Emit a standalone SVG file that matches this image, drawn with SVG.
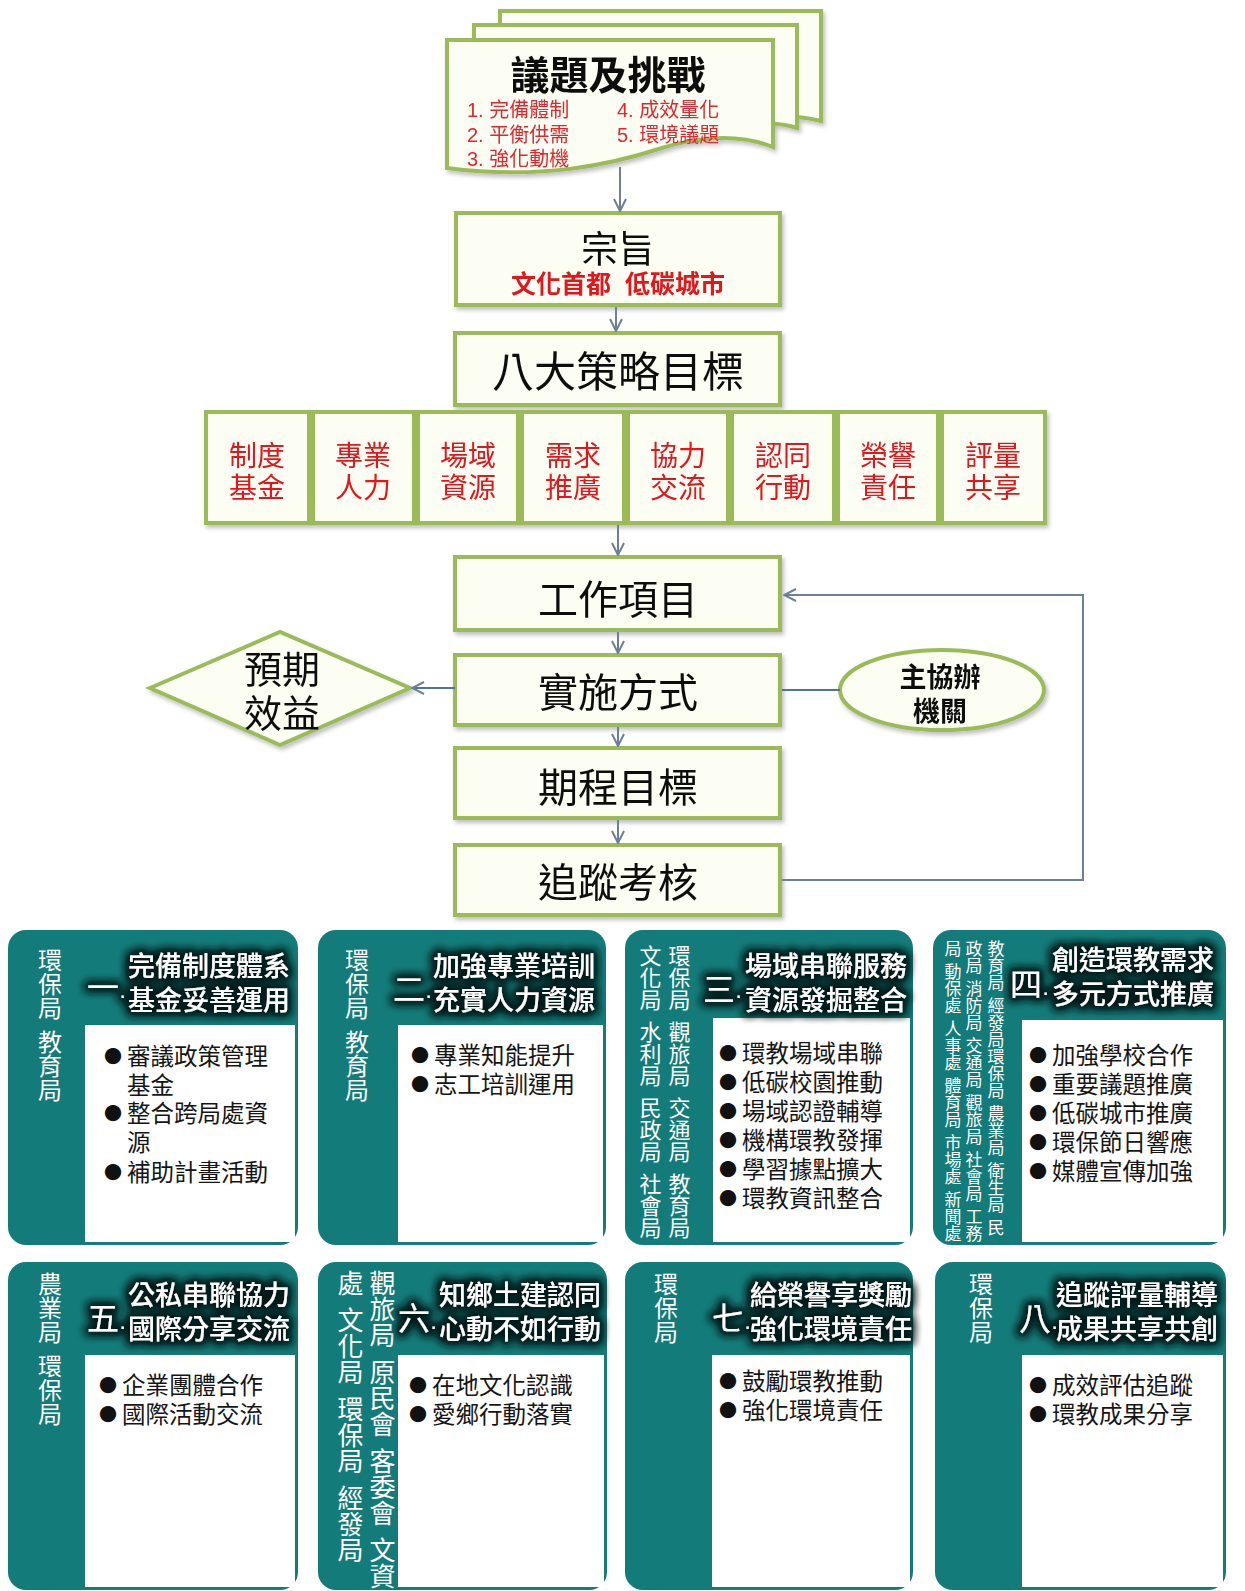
<svg xmlns="http://www.w3.org/2000/svg" width="1245" height="1591" viewBox="0 0 1245 1591">
<style>
text{font-family:"Liberation Sans","Noto Sans CJK TC","Noto Sans CJK SC",sans-serif}
.box{fill:#fcfef4;stroke:#9bbb59;stroke-width:4}
.conn{stroke:#6d7f99;stroke-width:2;fill:none}
.blue{stroke:#4f70ad}
.c{text-anchor:middle}
.big{font-size:40px;fill:#111}
.red{fill:#e3151a}
.sred{font-size:28px;fill:#e3151a}
.lst{font-size:20px;fill:#e3282d}
.panel{fill:#137b79}
.inner{fill:#ffffff}
.vt{writing-mode:vertical-rl;text-orientation:upright;fill:#fff;font-size:24px}
.vt22{font-size:22px}
.vt17{font-size:17px}
.vt26{font-size:26px}
.ttl{fill:#fff;font-size:27px;font-weight:500}
.num{fill:#fff;font-size:32px}
.pt{font-size:22px}
.bul{font-size:23.5px;fill:#151515}
.dot{font-family:"Noto Sans CJK TC","DejaVu Sans",sans-serif;font-size:18px;fill:#111}
</style>
<defs>
<marker id="ah" viewBox="0 0 14 14" refX="13" refY="7" markerWidth="14" markerHeight="14" markerUnits="userSpaceOnUse" orient="auto">
<path d="M1,1 L13,7 L1,13" fill="none" stroke="#6d7f99" stroke-width="2"/>
</marker>
<filter id="glow" x="-15%" y="-40%" width="130%" height="180%">
<feMorphology in="SourceAlpha" operator="dilate" radius="3" result="d"/>
<feGaussianBlur in="d" stdDeviation="4" result="b"/>
<feFlood flood-color="#021c1c" flood-opacity="0.9"/>
<feComposite in2="b" operator="in" result="s"/>
<feMerge><feMergeNode in="s"/><feMergeNode in="s"/><feMergeNode in="SourceGraphic"/></feMerge>
</filter>
<filter id="sh" x="-5%" y="-5%" width="115%" height="120%">
<feGaussianBlur in="SourceAlpha" stdDeviation="2"/>
<feOffset dx="2" dy="3" result="o"/>
<feFlood flood-color="#000" flood-opacity="0.25"/>
<feComposite in2="o" operator="in"/>
<feMerge><feMergeNode/><feMergeNode in="SourceGraphic"/></feMerge>
</filter>
</defs>
<rect width="1245" height="1591" fill="#fff"/>

<g id="issues" filter="url(#sh)">
<path class="box" d="M500,11 H821 V121 C795,114 770,116 750,121 H500 Z"/>
<path class="box" d="M474,25 H797 V128 C775,121 752,123 730,129 H474 Z"/>
<path class="box" d="M447,40 H773 V147 C740,134 700,136 662,148 C610,165 540,180 447,168 Z"/>
<text x="608" y="89" class="c" font-size="39" fill="#111" font-weight="700">議題及挑戰</text>
<text x="467" y="117" class="lst">1. 完備體制</text>
<text x="617" y="117" class="lst">4. 成效量化</text>
<text x="467" y="142" class="lst">2. 平衡供需</text>
<text x="617" y="142" class="lst">5. 環境議題</text>
<text x="467" y="166" class="lst">3. 強化動機</text>
</g>

<g id="purpose" filter="url(#sh)">
<rect class="box" x="456" y="213" width="324" height="92"/>
<text x="618" y="263" class="c" font-size="37" fill="#111">宗旨</text>
<text x="618" y="293" class="c red" font-size="25" font-weight="700">文化首都&#160;&#160;低碳城市</text>
</g>

<g id="goals" filter="url(#sh)">
<rect class="box" x="455" y="333" width="325" height="72"/>
<text x="618" y="387" class="c" font-size="42" fill="#111">八大策略目標</text>
</g>

<g id="strategies" filter="url(#sh)">
<g id="s1"><rect class="box" x="206" y="412" width="103" height="111"/><text x="257" y="466" class="c sred">制度</text><text x="257" y="498" class="c sred">基金</text></g>
<g id="s2"><rect class="box" x="313" y="412" width="101" height="111"/><text x="363" y="466" class="c sred">專業</text><text x="363" y="498" class="c sred">人力</text></g>
<g id="s3"><rect class="box" x="418" y="412" width="100" height="111"/><text x="468" y="466" class="c sred">場域</text><text x="468" y="498" class="c sred">資源</text></g>
<g id="s4"><rect class="box" x="522" y="412" width="102" height="111"/><text x="573" y="466" class="c sred">需求</text><text x="573" y="498" class="c sred">推廣</text></g>
<g id="s5"><rect class="box" x="628" y="412" width="100" height="111"/><text x="678" y="466" class="c sred">協力</text><text x="678" y="498" class="c sred">交流</text></g>
<g id="s6"><rect class="box" x="732" y="412" width="102" height="111"/><text x="783" y="466" class="c sred">認同</text><text x="783" y="498" class="c sred">行動</text></g>
<g id="s7"><rect class="box" x="838" y="412" width="100" height="111"/><text x="888" y="466" class="c sred">榮譽</text><text x="888" y="498" class="c sred">責任</text></g>
<g id="s8"><rect class="box" x="942" y="412" width="103" height="111"/><text x="993" y="466" class="c sred">評量</text><text x="993" y="498" class="c sred">共享</text></g>
</g>

<g id="work" filter="url(#sh)">
<rect class="box" x="455" y="557" width="325" height="73"/>
<text x="618" y="614" class="c big">工作項目</text>
</g>
<g id="method" filter="url(#sh)">
<rect class="box" x="455" y="655" width="325" height="70"/>
<text x="618" y="707" class="c big">實施方式</text>
</g>
<g id="benefit" filter="url(#sh)">
<polygon class="box" points="150,688 280,632 410,688 280,745"/>
<text x="282" y="683" class="c" font-size="38" fill="#111">預期</text>
<text x="282" y="727" class="c" font-size="38" fill="#111">效益</text>
</g>
<g id="agency" filter="url(#sh)">
<ellipse class="box" cx="942" cy="690" rx="102" ry="40"/>
<text x="940" y="687" class="c" font-size="27" font-weight="700" fill="#111">主協辦</text>
<text x="940" y="721" class="c" font-size="27" font-weight="700" fill="#111">機關</text>
</g>
<g id="schedule" filter="url(#sh)">
<rect class="box" x="455" y="748" width="325" height="70"/>
<text x="618" y="802" class="c big">期程目標</text>
</g>
<g id="track" filter="url(#sh)">
<rect class="box" x="455" y="845" width="325" height="70"/>
<text x="618" y="897" class="c big">追蹤考核</text>
</g>

<g id="connectors">
<path class="conn" d="M620,167 V211" marker-end="url(#ah)"/>
<path class="conn" d="M616,307 V331" marker-end="url(#ah)"/>
<path class="conn" d="M618,525 V555" marker-end="url(#ah)"/>
<path class="conn" d="M618,632 V653" marker-end="url(#ah)"/>
<path class="conn" d="M618,727 V746" marker-end="url(#ah)"/>
<path class="conn" d="M618,820 V843" marker-end="url(#ah)"/>
<path class="conn blue" d="M455,688 H412" marker-end="url(#ah)"/>
<path class="conn blue" d="M782,690 H840"/>
<path class="conn" d="M782,880 H1083 V595 H784" marker-end="url(#ah)"/>
</g>

<g id="p1">
<rect class="panel" x="8" y="930" width="290" height="315" rx="18"/>
<rect class="inner" x="85" y="1025" width="210" height="217"/>
<text class="vt" x="48" y="948">環保局</text><text class="vt" x="48" y="1030">教育局</text>
<g filter="url(#glow)"><text class="num" x="87" y="999">一<tspan class="pt" dy="4">·</tspan></text><text class="ttl" x="128" y="976">完備制度體系</text><text class="ttl" x="128" y="1010">基金妥善運用</text></g>
<text class="dot" x="104" y="1063">●</text><text class="bul" x="127" y="1065">審議政策管理</text>
<text class="bul" x="127" y="1094">基金</text>
<text class="dot" x="104" y="1120">●</text><text class="bul" x="127" y="1122">整合跨局處資</text>
<text class="bul" x="127" y="1151">源</text>
<text class="dot" x="104" y="1179">●</text><text class="bul" x="127" y="1181">補助計畫活動</text>
</g>

<g id="p2">
<rect class="panel" x="318" y="930" width="288" height="315" rx="18"/>
<rect class="inner" x="398" y="1025" width="205" height="217"/>
<text class="vt" x="355" y="948">環保局</text><text class="vt" x="355" y="1030">教育局</text>
<g filter="url(#glow)"><text class="num" x="393" y="1001">二<tspan class="pt" dy="2">·</tspan></text><text class="ttl" x="433" y="976">加強專業培訓</text><text class="ttl" x="433" y="1010">充實人力資源</text></g>
<text class="dot" x="411" y="1062">●</text><text class="bul" x="434" y="1064">專業知能提升</text>
<text class="dot" x="411" y="1091">●</text><text class="bul" x="434" y="1093">志工培訓運用</text>
</g>

<g id="p3">
<rect class="panel" x="625" y="930" width="288" height="315" rx="18"/>
<rect class="inner" x="713" y="1018" width="197" height="224"/>
<text class="vt vt22" x="677" y="945">環保局</text><text class="vt vt22" x="677" y="1021">觀旅局</text><text class="vt vt22" x="677" y="1097">交通局</text><text class="vt vt22" x="677" y="1173">教育局</text>
<text class="vt vt22" x="648" y="945">文化局</text><text class="vt vt22" x="648" y="1021">水利局</text><text class="vt vt22" x="648" y="1097">民政局</text><text class="vt vt22" x="648" y="1173">社會局</text>
<g filter="url(#glow)"><text class="num" x="703" y="1001">三<tspan class="pt" dy="2">·</tspan></text><text class="ttl" x="745" y="976">場域串聯服務</text><text class="ttl" x="745" y="1010">資源發掘整合</text></g>
<text class="dot" x="719" y="1060">●</text><text class="bul" x="742" y="1062">環教場域串聯</text>
<text class="dot" x="719" y="1089">●</text><text class="bul" x="742" y="1091">低碳校園推動</text>
<text class="dot" x="719" y="1118">●</text><text class="bul" x="742" y="1120">場域認證輔導</text>
<text class="dot" x="719" y="1147">●</text><text class="bul" x="742" y="1149">機構環教發揮</text>
<text class="dot" x="719" y="1176">●</text><text class="bul" x="742" y="1178">學習據點擴大</text>
<text class="dot" x="719" y="1205">●</text><text class="bul" x="742" y="1207">環教資訊整合</text>
</g>

<g id="p4">
<rect class="panel" x="933" y="930" width="293" height="315" rx="18"/>
<rect class="inner" x="1022" y="1020" width="201" height="222"/>
<text class="vt vt17" x="994" y="940">教育局</text><text class="vt vt17" x="994" y="997">經發局環保局</text><text class="vt vt17" x="994" y="1105">農業局</text><text class="vt vt17" x="994" y="1162">衛生局</text><text class="vt vt17" x="994" y="1219">民</text>
<text class="vt vt17" x="972" y="940">政局</text><text class="vt vt17" x="972" y="980">消防局</text><text class="vt vt17" x="972" y="1037">交通局</text><text class="vt vt17" x="972" y="1094">觀旅局</text><text class="vt vt17" x="972" y="1151">社會局</text><text class="vt vt17" x="972" y="1208">工務</text>
<text class="vt vt17" x="951" y="940">局</text><text class="vt vt17" x="951" y="963">動保處</text><text class="vt vt17" x="951" y="1020">人事處</text><text class="vt vt17" x="951" y="1077">體育局</text><text class="vt vt17" x="951" y="1134">市場處</text><text class="vt vt17" x="951" y="1191">新聞處</text>
<g filter="url(#glow)"><text class="num" x="1010" y="996">四<tspan class="pt" dy="4">·</tspan></text><text class="ttl" x="1052" y="970">創造環教需求</text><text class="ttl" x="1052" y="1004">多元方式推廣</text></g>
<text class="dot" x="1029" y="1062">●</text><text class="bul" x="1052" y="1064">加強學校合作</text>
<text class="dot" x="1029" y="1091">●</text><text class="bul" x="1052" y="1093">重要議題推廣</text>
<text class="dot" x="1029" y="1120">●</text><text class="bul" x="1052" y="1122">低碳城市推廣</text>
<text class="dot" x="1029" y="1149">●</text><text class="bul" x="1052" y="1151">環保節日響應</text>
<text class="dot" x="1029" y="1178">●</text><text class="bul" x="1052" y="1180">媒體宣傳加強</text>
</g>

<g id="p5">
<rect class="panel" x="8" y="1262" width="290" height="328" rx="18"/>
<rect class="inner" x="85" y="1355" width="210" height="232"/>
<text class="vt" x="48" y="1272">農業局</text><text class="vt" x="48" y="1354">環保局</text>
<g filter="url(#glow)"><text class="num" x="87" y="1330">五<tspan class="pt" dy="4">·</tspan></text><text class="ttl" x="128" y="1305">公私串聯協力</text><text class="ttl" x="128" y="1339">國際分享交流</text></g>
<text class="dot" x="99" y="1392">●</text><text class="bul" x="122" y="1394">企業團體合作</text>
<text class="dot" x="99" y="1421">●</text><text class="bul" x="122" y="1423">國際活動交流</text>
</g>

<g id="p6">
<rect class="panel" x="318" y="1262" width="289" height="328" rx="18"/>
<rect class="inner" x="398" y="1355" width="206" height="232"/>
<text class="vt vt26" x="380" y="1270">觀旅局</text><text class="vt vt26" x="380" y="1359">原民會</text><text class="vt vt26" x="380" y="1448">客委會</text><text class="vt vt26" x="380" y="1537">文資</text>
<text class="vt vt26" x="348" y="1270">處</text><text class="vt vt26" x="348" y="1307">文化局</text><text class="vt vt26" x="348" y="1396">環保局</text><text class="vt vt26" x="348" y="1485">經發局</text>
<g filter="url(#glow)"><text class="num" x="398" y="1330">六<tspan class="pt" dy="4">·</tspan></text><text class="ttl" x="439" y="1305">知鄉土建認同</text><text class="ttl" x="439" y="1339">心動不如行動</text></g>
<text class="dot" x="409" y="1392">●</text><text class="bul" x="432" y="1394">在地文化認識</text>
<text class="dot" x="409" y="1421">●</text><text class="bul" x="432" y="1423">愛鄉行動落實</text>
</g>

<g id="p7">
<rect class="panel" x="625" y="1262" width="288" height="328" rx="18"/>
<rect class="inner" x="712" y="1355" width="198" height="232"/>
<text class="vt" x="664" y="1272">環保局</text>
<g filter="url(#glow)"><text class="num" x="712" y="1330" font-size="30">七<tspan class="pt" dy="4">·</tspan></text><text class="ttl" x="750" y="1305">給榮譽享獎勵</text><text class="ttl" x="750" y="1339">強化環境責任</text></g>
<text class="dot" x="719" y="1388">●</text><text class="bul" x="742" y="1390">鼓勵環教推動</text>
<text class="dot" x="719" y="1417">●</text><text class="bul" x="742" y="1419">強化環境責任</text>
</g>

<g id="p8">
<rect class="panel" x="935" y="1262" width="291" height="328" rx="18"/>
<rect class="inner" x="1022" y="1355" width="201" height="232"/>
<text class="vt" x="979" y="1272">環保局</text>
<g filter="url(#glow)"><text class="num" x="1019" y="1330" font-size="30">八<tspan class="pt" dy="4">·</tspan></text><text class="ttl" x="1056" y="1305">追蹤評量輔導</text><text class="ttl" x="1056" y="1339">成果共享共創</text></g>
<text class="dot" x="1029" y="1392">●</text><text class="bul" x="1052" y="1394">成效評估追蹤</text>
<text class="dot" x="1029" y="1421">●</text><text class="bul" x="1052" y="1423">環教成果分享</text>
</g>
</svg>
